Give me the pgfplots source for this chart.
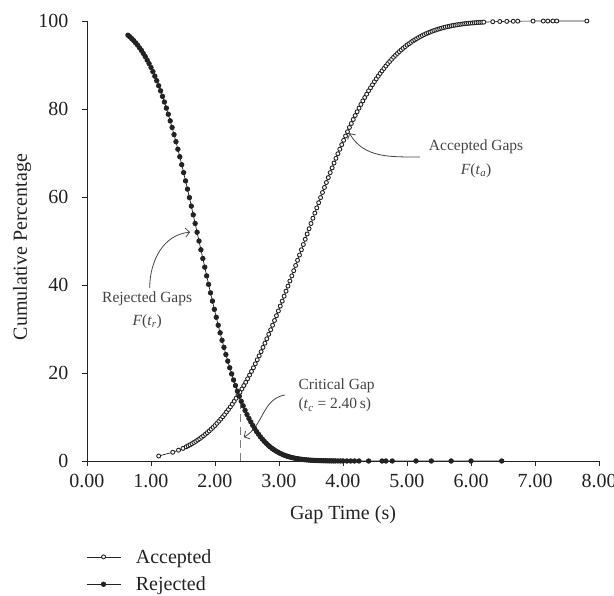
\documentclass[border=0pt]{standalone}
\usepackage{fontspec}
\setmainfont{Liberation Serif}
\usepackage{pgfplots}
\pgfplotsset{compat=1.18}
\usetikzlibrary{arrows.meta}

\newcommand{\bigfont}{\fontsize{20}{24}\selectfont}
\newcommand{\notefont}{\fontsize{15.5}{18}\selectfont}
\definecolor{ink}{HTML}{222222}
\definecolor{notegray}{HTML}{444444}

\begin{document}
\begin{tikzpicture}
\begin{axis}[
  scale only axis, width=512pt, height=440pt,
  xmin=0, xmax=8, ymin=0, ymax=100,
  axis lines=left, axis line style={-, ink, line width=0.8pt},
  tick align=outside, major tick length=5pt,
  tick style={ink, line width=0.8pt},
  xtick={0,1,2,3,4,5,6,7,8},
  xticklabels={0.00,1.00,2.00,3.00,4.00,5.00,6.00,7.00,8.00},
  ytick={0,20,40,60,80,100},
  yticklabels={0,20,40,60,80,100},
  tick label style={font=\bigfont, text=ink},
  xticklabel style={yshift=-5pt},
  yticklabel style={xshift=-10pt},
  xlabel={Gap Time (s)}, ylabel={Cumulative Percentage},
  every axis x label/.style={at={(axis description cs:0.5,0)}, yshift=-54pt, anchor=center, font=\bigfont, text=ink},
  every axis y label/.style={at={(axis description cs:0,0.5)}, xshift=-65pt, yshift=-6pt, rotate=90, anchor=center, font=\bigfont, text=ink},
  clip=false,
  legend style={at={(axis description cs:0,0)}, anchor=north west, yshift=-86pt, xshift=-1pt,
    draw=none, fill=none, font=\bigfont, text=ink, cells={anchor=west}, row sep=8pt,
    inner sep=0pt, nodes={inner sep=2pt},
    /tikz/every odd column/.append style={column sep=13pt}},
  legend image code/.code={\draw[mark repeat=2,mark phase=2,#1] plot coordinates {(0pt,0pt) (17pt,0pt) (34pt,0pt)};},
]
% accepted gaps
\addplot[ink, line width=0.7pt, mark=*, mark size=2pt, mark options={fill=white, draw=ink, line width=0.9pt}] coordinates {
(1.12,1.13) (1.34,1.99) (1.43,2.46) (1.50,2.87)
(1.55,3.23) (1.58,3.45) (1.61,3.68) (1.64,3.94) (1.67,4.20) (1.70,4.46) (1.73,4.77) (1.76,5.07) (1.79,5.38) (1.82,5.72)
(1.85,6.08) (1.88,6.44) (1.91,6.82) (1.94,7.24) (1.97,7.66) (2.00,8.08) (2.03,8.56) (2.06,9.04) (2.09,9.52) (2.12,10.05)
(2.15,10.56) (2.18,11.14) (2.21,11.70) (2.24,12.30) (2.27,12.92) (2.30,13.57) (2.33,14.26) (2.36,14.95) (2.39,15.64)
(2.42,16.38) (2.45,17.14) (2.48,17.90) (2.51,18.69) (2.54,19.52) (2.57,20.36) (2.60,21.19) (2.63,22.09) (2.66,23.00)
(2.69,23.90) (2.72,24.85) (2.75,25.82) (2.78,26.78) (2.81,27.77) (2.84,28.80) (2.87,29.82) (2.90,30.85) (2.93,31.93)
(2.96,33.02) (2.99,34.10) (3.02,35.21) (3.05,36.34) (3.08,37.46) (3.11,38.60) (3.14,39.75) (3.17,40.91) (3.20,42.07)
(3.23,43.25) (3.26,44.44) (3.29,45.62) (3.32,46.81) (3.35,48.01) (3.38,49.20) (3.41,50.40) (3.44,51.59) (3.47,52.79)
(3.50,53.98) (3.53,55.17) (3.56,56.35) (3.59,57.53) (3.62,58.70) (3.65,59.86) (3.68,61.02) (3.71,62.16) (3.74,63.29)
(3.77,64.41) (3.80,65.54) (3.83,66.62) (3.86,67.71) (3.89,68.79) (3.92,69.83) (3.95,70.86) (3.98,71.89) (4.01,72.89)
(4.04,73.86) (4.07,74.83) (4.10,75.80) (4.13,76.70) (4.16,77.61) (4.19,78.51) (4.22,79.37) (4.25,80.20) (4.28,81.03)
(4.31,81.84) (4.34,82.61) (4.37,83.37) (4.40,84.13) (4.43,84.82) (4.46,85.51) (4.49,86.20) (4.52,86.84) (4.55,87.46)
(4.58,88.08) (4.61,88.67) (4.64,89.22) (4.67,89.77) (4.70,90.32) (4.73,90.80) (4.76,91.28) (4.79,91.76) (4.82,92.20)
(4.85,92.62) (4.88,93.04) (4.91,93.44) (4.94,93.80) (4.97,94.16) (5.00,94.52) (5.03,94.83) (5.06,95.13) (5.09,95.44)
(5.12,95.71) (5.15,95.97) (5.18,96.24) (5.21,96.48) (5.24,96.70) (5.27,96.91) (5.30,97.13) (5.33,97.31) (5.36,97.48)
(5.39,97.66) (5.42,97.82) (5.45,97.96) (5.48,98.11) (5.51,98.25) (5.54,98.37) (5.57,98.49) (5.60,98.61) (5.63,98.71)
(5.66,98.80) (5.69,98.90) (5.72,98.98) (5.75,99.05) (5.78,99.13) (5.81,99.20) (5.84,99.26) (5.87,99.32) (5.90,99.38)
(5.93,99.43) (5.96,99.47) (5.99,99.52) (6.02,99.55) (6.05,99.59) (6.08,99.63) (6.11,99.66) (6.14,99.69) (6.17,99.71)
(6.20,99.74) (6.34,99.83) (6.45,99.89) (6.56,99.92) (6.66,99.94) (6.73,99.96) (6.97,99.98) (7.13,99.99) (7.20,99.99)
(7.28,100) (7.34,100) (7.81,100)
};
\addlegendentry{Accepted}
% rejected gaps
\addplot[ink, line width=0.7pt, mark=*, mark size=2.3pt, mark options={fill=ink, draw=ink}] coordinates {
(0.64,96.77) (0.67,96.41) (0.70,95.97) (0.73,95.54) (0.76,95.03) (0.79,94.52) (0.82,93.92) (0.85,93.32) (0.88,92.62)
(0.91,91.92) (0.94,91.12) (0.97,90.32) (1.00,89.44) (1.03,88.49) (1.06,87.46) (1.09,86.43) (1.12,85.28) (1.15,84.13)
(1.18,82.86) (1.21,81.59) (1.24,80.20) (1.27,78.81) (1.30,77.30) (1.33,75.80) (1.36,74.18) (1.39,72.57) (1.42,70.86)
(1.45,69.15) (1.48,67.34) (1.51,65.54) (1.54,63.66) (1.57,61.79) (1.60,59.86) (1.63,57.93) (1.66,55.95) (1.69,53.98)
(1.72,51.99) (1.75,50.00) (1.78,48.01) (1.81,46.02) (1.84,44.05) (1.87,42.07) (1.90,40.14) (1.93,38.21) (1.96,36.34)
(1.99,34.46) (2.02,32.66) (2.05,30.85) (2.08,29.14) (2.11,27.43) (2.14,25.82) (2.17,24.20) (2.20,22.70) (2.23,21.19)
(2.26,19.80) (2.29,18.41) (2.32,17.14) (2.35,15.87) (2.38,14.72) (2.41,13.57) (2.44,12.54) (2.47,11.51) (2.50,10.56)
(2.53,9.68) (2.56,8.88) (2.59,8.08) (2.62,7.38) (2.65,6.68) (2.68,6.08) (2.71,5.48) (2.74,4.97) (2.77,4.46) (2.80,4.03)
(2.83,3.59) (2.86,3.23) (2.89,2.87) (2.92,2.58) (2.95,2.28) (2.98,2.04) (3.01,1.79) (3.04,1.59) (3.07,1.39) (3.10,1.23)
(3.13,1.07) (3.16,0.95) (3.19,0.82) (3.22,0.72) (3.25,0.62) (3.28,0.55) (3.31,0.47) (3.34,0.41) (3.37,0.35) (3.40,0.30)
(3.43,0.26) (3.46,0.22) (3.49,0.19) (3.52,0.16) (3.55,0.13) (3.58,0.11) (3.61,0.10) (3.64,0.08) (3.67,0.07) (3.70,0.06)
(3.73,0.05) (3.76,0.04) (3.79,0.03) (3.82,0.03) (3.85,0.02) (3.88,0.02) (3.92,0.01) (3.96,0.01) (4.00,0.01) (4.06,0)
(4.12,0) (4.18,0) (4.25,0) (4.40,0) (4.61,0) (4.67,0) (4.77,0) (5.14,0) (5.38,0) (5.69,0) (6.00,0) (6.48,0)
};
\addlegendentry{Rejected}
% critical gap marker
\addplot[forget plot, gray, line width=1pt, dash pattern=on 8pt off 5pt] coordinates {(2.40,0) (2.40,14.3)};

% annotations
\draw[notegray, line width=0.8pt, -{Straight Barb[length=4pt,width=9pt]}]
  (axis cs:5.20,69.1) to[out=180,in=-60] (axis cs:4.10,74.5);
\node[notegray, font=\notefont] at (axis cs:6.08,71.4) {Accepted Gaps};
\node[notegray, font=\notefont] at (axis cs:6.08,65.9) {\textit{F}(\textit{t}\textsubscript{\textit{a}})};

\draw[notegray, line width=0.8pt, -{Straight Barb[length=4pt,width=9pt]}]
  (axis cs:0.98,39.3) to[out=90,in=185] (axis cs:1.61,52.0);
\node[notegray, font=\notefont] at (axis cs:0.94,36.8) {Rejected Gaps};
\node[notegray, font=\notefont] at (axis cs:0.94,31.6) {\textit{F}(\textit{t}\textsubscript{\textit{r}})};

\draw[notegray, line width=0.8pt, -{Straight Barb[length=4pt,width=9pt]}]
  (axis cs:3.09,15.0) to[out=190,in=30] (axis cs:2.45,5.4);
\node[notegray, font=\notefont, anchor=west] at (axis cs:3.25,17.0) {Critical Gap};
\node[notegray, font=\notefont, anchor=west] at (axis cs:3.25,12.7) {(\textit{t}\textsubscript{\textit{c}} = 2.40\,s)};
\end{axis}
\pgfresetboundingbox
\path[use as bounding box] (-87pt,-135pt) rectangle (527pt,461pt);
\end{tikzpicture}
\end{document}
